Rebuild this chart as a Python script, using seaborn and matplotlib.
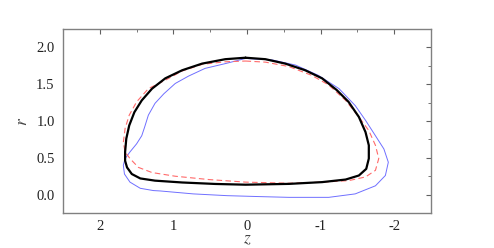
import numpy as np
import pandas as pd
import seaborn as sns
import matplotlib.pyplot as plt
from matplotlib.ticker import MultipleLocator

# Contour traces (z, r), each closed
black_z = [0.02, -0.25, -0.52, -0.79, -1.02, -1.22, -1.38, -1.52, -1.61, -1.655, -1.655, -1.62,
           -1.52, -1.34, -1.02, -0.57, 0.02, 0.43, 0.88, 1.25, 1.45, 1.565, 1.63, 1.656, 1.656,
           1.64, 1.60, 1.53, 1.43, 1.29, 1.11, 0.88, 0.61, 0.295, 0.02]
black_r = [1.86, 1.84, 1.78, 1.69, 1.58, 1.42, 1.26, 1.055, 0.85, 0.67, 0.49, 0.35,
           0.26, 0.205, 0.17, 0.146, 0.135, 0.145, 0.165, 0.19, 0.22, 0.28, 0.37, 0.46, 0.58,
           0.76, 0.94, 1.12, 1.28, 1.44, 1.58, 1.69, 1.78, 1.84, 1.86]

red_z = [0.02, -0.25, -0.57, -0.88, -1.11, -1.34, -1.52, -1.655, -1.745, -1.79, -1.745, -1.61,
         -1.38, -1.02, -0.57, 0.02, 0.52, 0.975, 1.29, 1.475, 1.59, 1.656, 1.68, 1.656, 1.60,
         1.50, 1.34, 1.11, 0.88, 0.61, 0.295, 0.02]
red_r = [1.815, 1.80, 1.74, 1.62, 1.49, 1.28, 1.055, 0.87, 0.67, 0.49, 0.33, 0.24,
         0.19, 0.17, 0.155, 0.17, 0.205, 0.25, 0.30, 0.37, 0.49, 0.58, 0.71, 0.90, 1.08,
         1.26, 1.44, 1.555, 1.68, 1.77, 1.805, 1.815]

blue_z = [0.02, -0.34, -0.66, -0.97, -1.25, -1.47, -1.61, -1.745, -1.86, -1.92, -1.88, -1.745,
          -1.47, -1.11, -0.57, -0.18, 0.27, 0.73, 1.18, 1.27, 1.45, 1.59, 1.665, 1.68, 1.656,
          1.59, 1.50, 1.43, 1.39, 1.34, 1.25, 1.13, 0.975, 0.795, 0.57, 0.295, 0.02]
blue_r = [1.85, 1.83, 1.76, 1.62, 1.44, 1.21, 1.01, 0.80, 0.62, 0.44, 0.26, 0.12,
          0.01, -0.037, -0.037, -0.027, -0.014, 0.01, 0.05, 0.055, 0.086, 0.17, 0.28, 0.40, 0.49,
          0.58, 0.69, 0.80, 0.92, 1.08, 1.24, 1.37, 1.51, 1.61, 1.715, 1.78, 1.85]

sns.set_style("white")
plt.rcParams['font.family'] = ['Liberation Serif', 'DejaVu Serif']
plt.rcParams['mathtext.fontset'] = 'stix'

fig = plt.figure(figsize=(4.94, 2.48), dpi=100)
ax = fig.add_axes([0.1275, 0.141, 0.745, 0.742])

def draw(z, r, **kw):
    df = pd.DataFrame({"z": z, "r": r})
    sns.lineplot(data=df, x="z", y="r", sort=False, estimator=None, ax=ax, **kw)

draw(blue_z, blue_r, color="#6f6fff", linewidth=0.7)
draw(red_z, red_r, color="#ff6a6a", linewidth=0.8, linestyle=(0, (5, 3)))
draw(black_z, black_r, color="black", linewidth=1.6)

ax.set_xlim(2.5, -2.5)
ax.set_ylim(-0.25, 2.25)
ax.set_xticks([2, 1, 0, -1, -2])
ax.set_xticklabels(["2", "1", "0", "-1", "-2"])
ax.set_yticks([0.0, 0.5, 1.0, 1.5, 2.0])
ax.set_yticklabels(["0.0", "0.5", "1.0", "1.5", "2.0"])
ax.xaxis.set_minor_locator(MultipleLocator(0.5))
ax.yaxis.set_minor_locator(MultipleLocator(0.25))

for s in ax.spines.values():
    s.set_color("#808080")
    s.set_linewidth(1.0)
ax.tick_params(which="both", direction="in", top=True, right=True, color="#606060",
               labelsize=10.5, labelcolor="#222222")
ax.tick_params(axis="x", which="major", pad=5)
ax.tick_params(axis="y", which="major", pad=6)
ax.tick_params(which="major", length=3.5, width=0.8)
ax.tick_params(which="minor", length=2.5, width=0.6)

ax.set_xlabel(r"$z$", fontsize=12.5, color="#444444", labelpad=-1)
ax.set_ylabel(r"$r$", fontsize=12.5, color="#444444", labelpad=4)

fig.savefig("out.png", dpi=100)
